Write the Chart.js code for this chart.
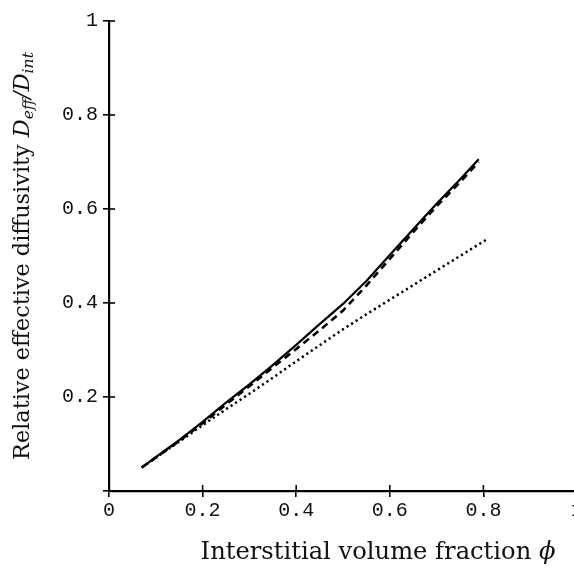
<!DOCTYPE html>
<html>
<head>
<meta charset="utf-8">
<script src="https://cdn.jsdelivr.net/npm/chart.js@4.4.1/dist/chart.umd.min.js"></script>
<style>
  html, body { margin: 0; padding: 0; background: #fff; overflow: hidden; }
  #wrap { width: 574px; height: 569px; overflow: hidden; position: relative; }
  canvas { display: block; }
</style>
</head>
<body>
<div id="wrap"><canvas id="c" width="590" height="569"></canvas></div>
<script>
// ---- data ----
const phiSolid   = [0.07, 0.10, 0.15, 0.20, 0.25, 0.30, 0.35, 0.40, 0.45, 0.50, 0.55, 0.60, 0.65, 0.70, 0.75, 0.79];
const solidVals  = [0.050, 0.072, 0.108, 0.147, 0.188, 0.227, 0.268, 0.311, 0.355, 0.398, 0.447, 0.502, 0.557, 0.611, 0.663, 0.706];
const phiDashed  = [0.07, 0.10, 0.15, 0.20, 0.25, 0.30, 0.35, 0.40, 0.45, 0.50, 0.55, 0.60, 0.65, 0.70, 0.75, 0.79];
const dashedVals = [0.050, 0.071, 0.106, 0.144, 0.184, 0.223, 0.263, 0.302, 0.342, 0.384, 0.437, 0.494, 0.551, 0.606, 0.657, 0.700];
const phiDotted  = [0.07, 0.10, 0.15, 0.20, 0.25, 0.30, 0.35, 0.40, 0.45, 0.50, 0.55, 0.60, 0.65, 0.70, 0.75, 0.805];
const dottedVals = [0.050, 0.071, 0.105, 0.140, 0.174, 0.207, 0.241, 0.276, 0.310, 0.344, 0.376, 0.407, 0.438, 0.469, 0.500, 0.534];

const xTickValues = [0, 0.2, 0.4, 0.6, 0.8, 1];
const xTickLabels = ['0', '0.2', '0.4', '0.6', '0.8', '1'];
const yTickValues = [0, 0.2, 0.4, 0.6, 0.8, 1];
const yTickLabels = ['', '0.2', '0.4', '0.6', '0.8', '1'];

const xTitle = 'Interstitial volume fraction ';
const xTitleSymbol = '\u03D5';
const yTitle = 'Relative effective diffusivity ';

function pts(xs, ys) { return xs.map((x, i) => ({ x: x, y: ys[i] })); }

// ---- helpers ----
const SERIF = '"DejaVu Serif", "Liberation Serif", serif';

// pieces: {t, style, rel, dy}; font size is fitted so the whole string has the target width
function drawRich(ctx, pieces, cx, cy, rot, targetWidth) {
  ctx.save();
  const measure = (base) => {
    let total = 0;
    pieces.forEach(p => {
      p.font = (p.style ? p.style + ' ' : '') + (base * (p.rel || 1)).toFixed(2) + 'px ' + SERIF;
      ctx.font = p.font; p.w = ctx.measureText(p.t).width; total += p.w;
    });
    return total;
  };
  let base = 20;
  const w0 = measure(base);
  base = base * targetWidth / w0;
  const total = measure(base);
  ctx.translate(cx, cy);
  ctx.rotate(rot);
  ctx.fillStyle = '#111';
  ctx.textBaseline = 'alphabetic';
  ctx.textAlign = 'left';
  let x = -total / 2;
  pieces.forEach(p => { ctx.font = p.font; ctx.fillText(p.t, x, (p.dy || 0) * base / 20); x += p.w; });
  ctx.restore();
}

const decor = {
  id: 'decor',
  afterDraw(chart) {
    const ctx = chart.ctx;
    const xs = chart.scales.x, ys = chart.scales.y;
    // inward halves of the tick marks
    ctx.save();
    ctx.strokeStyle = '#000';
    ctx.lineWidth = 1.6;
    const yb = ys.getPixelForValue(0);
    xTickValues.forEach(v => {
      const px = xs.getPixelForValue(v);
      ctx.beginPath(); ctx.moveTo(px, yb); ctx.lineTo(px, yb - 6); ctx.stroke();
    });
    const xl = xs.getPixelForValue(0);
    yTickValues.forEach(v => {
      const py = ys.getPixelForValue(v);
      ctx.beginPath(); ctx.moveTo(xl, py); ctx.lineTo(xl + 6, py); ctx.stroke();
    });
    ctx.restore();

    // axis titles
    drawRich(ctx, [
      { t: xTitle },
      { t: xTitleSymbol, style: 'italic' }
    ], 378, 559, 0, 355);

    drawRich(ctx, [
      { t: yTitle },
      { t: 'D', style: 'italic' },
      { t: 'eff', style: 'italic', rel: 0.7, dy: 4 },
      { t: '/', style: 'italic' },
      { t: 'D', style: 'italic' },
      { t: 'int', style: 'italic', rel: 0.7, dy: 4 }
    ], 29, 256, -Math.PI / 2, 408);
  }
};

const MONO = '"Liberation Mono", "DejaVu Sans Mono", monospace';

new Chart(document.getElementById('c'), {
  type: 'line',
  data: {
    datasets: [
      { label: 'solid', data: pts(phiSolid, solidVals), borderColor: '#000', borderWidth: 2.2, pointRadius: 0, tension: 0, fill: false },
      { label: 'dashed', data: pts(phiDashed, dashedVals), borderColor: '#000', borderWidth: 2.6, borderDash: [7, 5], pointRadius: 0, tension: 0, fill: false },
      { label: 'dotted', data: pts(phiDotted, dottedVals), borderColor: '#000', borderWidth: 2.5, borderDash: [2.2, 3.2], pointRadius: 0, tension: 0, fill: false }
    ]
  },
  options: {
    responsive: false,
    animation: false,
    devicePixelRatio: 1,
    layout: { padding: { left: 0, right: 13, top: 21, bottom: 0 } },
    plugins: { legend: { display: false }, tooltip: { enabled: false } },
    scales: {
      x: {
        type: 'linear', min: 0, max: 1,
        afterBuildTicks: s => { s.ticks = xTickValues.map(v => ({ value: v })); },
        afterFit: s => { s.height = 78; },
        ticks: {
          callback: (v) => { const i = xTickValues.indexOf(v); return i >= 0 ? xTickLabels[i] : ''; },
          font: { family: MONO, size: 20 }, color: '#111', padding: 2, maxRotation: 0, autoSkip: false
        },
        grid: { drawOnChartArea: false, drawTicks: true, tickLength: 6, color: '#000', lineWidth: 1.6 },
        border: { display: true, color: '#000', width: 2.2 }
      },
      y: {
        type: 'linear', min: 0, max: 1,
        afterBuildTicks: s => { s.ticks = yTickValues.map(v => ({ value: v })); },
        afterFit: s => { s.width = 109; },
        ticks: {
          callback: (v) => { const i = yTickValues.indexOf(v); return i >= 0 ? yTickLabels[i] : ''; },
          font: { family: MONO, size: 20 }, color: '#111', padding: 5, autoSkip: false
        },
        grid: { drawOnChartArea: false, drawTicks: true, tickLength: 6, color: '#000', lineWidth: 1.6 },
        border: { display: true, color: '#000', width: 2.2 }
      }
    }
  },
  plugins: [decor]
});
</script>
</body>
</html>
